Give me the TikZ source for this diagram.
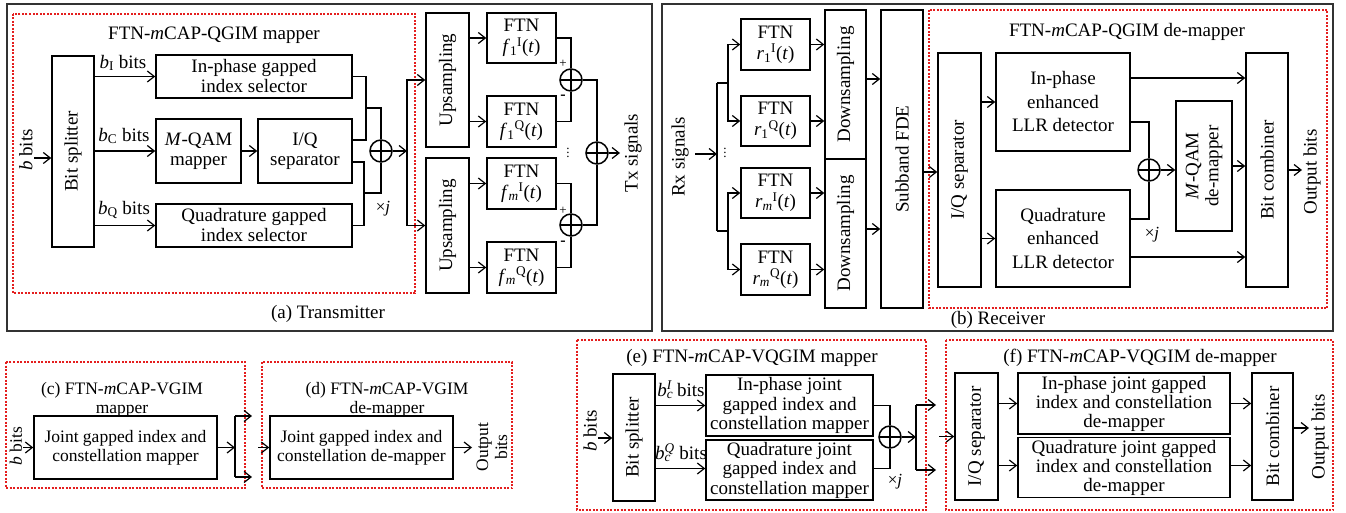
\documentclass[tikz,border=0pt]{standalone}
\usepackage{fontspec}
\setmainfont{Liberation Serif}
\usetikzlibrary{arrows.meta}
\definecolor{rdot}{RGB}{228,30,30}
\definecolor{frame}{RGB}{50,50,50}
\newcommand\fnA{\fontsize{19}{20}\selectfont}
\newcommand\fnC{\fontsize{17.5}{19}\selectfont}
\newcommand\fnL{\fontsize{19}{23.5}\selectfont}
\newcommand\fnS{\fontsize{13}{13}\selectfont}
\newcommand\fnX{\fontsize{17}{17}\selectfont}
\newcommand\supsub[2]{\rlap{\textsubscript{#1}}\textsuperscript{#2}}
\tikzset{
  blk/.style={draw, line width=1.5pt, inner sep=0pt, align=center},
  rot/.style={rotate=90, align=center, inner sep=0pt},
  conn/.style={line width=1.2pt},
  arr/.style={line width=1.2pt, -{Straight Barb[length=7pt,width=11pt]}},
  sumn/.style={circle, draw, line width=1.5pt, minimum size=22pt, inner sep=0pt,
    path picture={\draw[line width=1.3pt] (path picture bounding box.north) -- (path picture bounding box.south)
      (path picture bounding box.west) -- (path picture bounding box.east);}},
  rbox/.style={draw=rdot, line width=1.3pt, dash pattern=on 2pt off 1.5pt},
  obox/.style={draw=frame, line width=2pt},
  lbl/.style={inner sep=0pt, align=center}
}
\begin{document}
\begin{tikzpicture}[x=1pt,y=-1pt,font=\fnA]
\useasboundingbox (0,0) rectangle (1346,513);
\fill[white] (0,0) rectangle (1346,513);

% ---------------- frames ----------------
\draw[obox] (7,4) rectangle (652,331);
\draw[obox] (662,4) rectangle (1333,331);
\draw[rbox] (13,14) rectangle (415,293);
\draw[rbox] (929,10) rectangle (1327,308);
\draw[rbox] (6,362) rectangle (245,488);
\draw[rbox] (262,362) rectangle (512,488);
\draw[rbox] (577,340) rectangle (926,510);
\draw[rbox] (946,340) rectangle (1333,510);

% ---------------- (a) Transmitter ----------------
\node[lbl] (titA) at (214,35) {FTN-\textit{m}CAP-QGIM mapper};
\node[lbl] (capA) at (328,314) {(a) Transmitter};
\node[blk, minimum width=42, minimum height=191] (splitA) at (73,151.5) {};
\node[rot] at (splitA) {Bit splitter};
\node[blk, minimum width=196, minimum height=43] (inA) at (254,76.5) {In-phase gapped\\index selector};
\node[blk, minimum width=85, minimum height=64] (qamA) at (198.5,151) {\textit{M}-QAM\\mapper};
\node[blk, minimum width=94, minimum height=64] (iqA) at (305,151) {I/Q\\separator};
\node[blk, minimum width=196, minimum height=43] (quadA) at (254,225.5) {Quadrature gapped\\index selector};
\node[sumn] (sumA) at (381,151) {};
\node[lbl] (bAl) at (26,150) {\rotatebox{90}{\textit{b} bits}};
\coordinate (bAin) at (34,158);
\draw[arr] (bAin) -- (bAin -| splitA.west);
\draw[arr] (splitA.east |- inA) -- (inA.west);
\draw[arr] (splitA.east |- qamA) -- (qamA.west);
\draw[arr] (splitA.east |- quadA) -- (quadA.west);
\draw[arr] (qamA.east) -- (iqA.west);
\node[lbl] at (123,63) {\textit{b}\textsubscript{I} bits};
\node[lbl] at (124,136) {\textit{b}\textsubscript{C} bits};
\node[lbl] at (124,210) {\textit{b}\textsubscript{Q} bits};
\coordinate (tA) at (366,108);
\coordinate (bA) at (364,193);
\draw[conn] (inA.east) -| (tA) |- ([yshift=11pt]iqA.east);
\draw[conn] (tA) -| (sumA.north);
\draw[conn] ([yshift=-11pt]iqA.east) -| (bA) |- (quadA.east);
\draw[conn] (bA) -| (sumA.south);
\node[lbl, font=\fnX] at (383,209) {×\textit{j}};

\node[blk, minimum width=43, minimum height=134] (up1) at (447.5,80) {};
\node[rot] at (up1) {Upsampling};
\node[blk, minimum width=43, minimum height=135] (up2) at (447.5,225.5) {};
\node[rot] at (up2) {Upsampling};
\coordinate (vA) at (407,151);
\draw[arr] (sumA.east) -- (vA);
\draw[arr] (vA) |- (up1.west);
\draw[arr] (vA) |- (up2.west);

\node[blk, minimum width=69, minimum height=50] (f1I) at (521.5,38) {FTN\\[1pt]\textit{f}\textsubscript{1}\textsuperscript{I}(\textit{t})};
\node[blk, minimum width=69, minimum height=51] (f1Q) at (521.5,121.5) {FTN\\[1pt]\textit{f}\textsubscript{1}\textsuperscript{Q}(\textit{t})};
\node[blk, minimum width=69, minimum height=51] (fmI) at (521.5,183.5) {FTN\\[1pt]\textit{f}\textsubscript{\textit{m}}\textsuperscript{I}(\textit{t})};
\node[blk, minimum width=69, minimum height=51] (fmQ) at (521.5,267.5) {FTN\\[1pt]\textit{f}\textsubscript{\textit{m}}\textsuperscript{Q}(\textit{t})};
\draw[arr] (up1.east |- f1I) -- (f1I.west);
\draw[arr] (up1.east |- f1Q) -- (f1Q.west);
\draw[arr] (up2.east |- fmI) -- (fmI.west);
\draw[arr] (up2.east |- fmQ) -- (fmQ.west);
\node[sumn] (add1) at (571,80) {};
\node[sumn] (add2) at (571,225) {};
\node[sumn] (add3) at (597,153) {};
\draw[conn] (f1I.east) -| (add1.north);
\draw[conn] (f1Q.east) -| (add1.south);
\draw[conn] (fmI.east) -| (add2.north);
\draw[conn] (fmQ.east) -| (add2.south);
\draw[conn] (add1.east) -| (add3.north);
\draw[conn] (add2.east) -| (add3.south);
\node[lbl, font=\fnS] at (563,64) {+};
\node[lbl, font=\fnS] at (563,211) {+};
\node[lbl, font=\fontsize{16}{16}\selectfont\bfseries] at (563,97) {-};
\node[lbl, font=\fontsize{16}{16}\selectfont\bfseries] at (563,243) {-};
\node[lbl, font=\fnS] at (568,150) {$\vdots$};
\coordinate (txo) at (620,153);
\draw[arr] (add3.east) -- (txo);
\node[rot] (txl) at (633,153) {Tx signals};

% ---------------- (b) Receiver ----------------
\node[lbl] (capB) at (998,320) {(b) Receiver};
\node[rot] (rxl) at (680,157) {Rx signals};
\coordinate (rA) at (695,154);
\coordinate (rB) at (717,154);
\coordinate (rT) at (717,83);
\coordinate (rD) at (717,231);
\coordinate (r1) at (728,83);
\coordinate (r2) at (728,231);
\draw[arr] (rA) -- (rB);
\draw[conn] (rT) -- (rD);
\draw[conn] (rT) -- (r1);
\draw[conn] (rD) -- (r2);
\node[lbl, font=\fnS] at (725,150) {$\vdots$};
\node[blk, minimum width=69, minimum height=51] (r1I) at (775.5,44.5) {FTN\\[1pt]\textit{r}\textsubscript{1}\textsuperscript{I}(\textit{t})};
\node[blk, minimum width=69, minimum height=50] (r1Q) at (775.5,121) {FTN\\[1pt]\textit{r}\textsubscript{1}\textsuperscript{Q}(\textit{t})};
\node[blk, minimum width=69, minimum height=50] (rmI) at (775.5,193) {FTN\\[1pt]\textit{r}\textsubscript{\textit{m}}\textsuperscript{I}(\textit{t})};
\node[blk, minimum width=69, minimum height=51] (rmQ) at (775.5,269.5) {FTN\\[1pt]\textit{r}\textsubscript{\textit{m}}\textsuperscript{Q}(\textit{t})};
\draw[arr] (r1) |- (r1I.west);
\draw[arr] (r1) |- (r1Q.west);
\draw[arr] (r2) |- (rmI.west);
\draw[arr] (r2) |- (rmQ.west);
\node[blk, minimum width=41, minimum height=149] (down1) at (845.5,84.5) {};
\node[rot] at (down1) {Downsampling};
\node[blk, minimum width=41, minimum height=149] (down2) at (845.5,233.5) {};
\node[rot] at (down2) {Downsampling};
\draw[arr] (r1I.east) -- (r1I.east -| down1.west);
\draw[arr] (r1Q.east) -- (r1Q.east -| down1.west);
\draw[arr] (rmI.east) -- (rmI.east -| down2.west);
\draw[arr] (rmQ.east) -- (rmQ.east -| down2.west);
\node[blk, minimum width=42, minimum height=298] (fde) at (902,159) {};
\node[rot] at (fde) {Subband FDE};
\draw[arr] ([yshift=5.5pt]down1.east) -- ([yshift=5.5pt]down1.east -| fde.west);
\draw[arr] ([yshift=4.5pt]down2.east) -- ([yshift=4.5pt]down2.east -| fde.west);

\node[lbl] (titB) at (1127,32) {FTN-\textit{m}CAP-QGIM de-mapper};
\node[blk, minimum width=43, minimum height=234] (iqB) at (959.5,170) {};
\node[rot] at (iqB) {I/Q separator};
\draw[arr] ([yshift=-2pt]fde.east |- iqB) -- ([yshift=-2pt]iqB.west);
\node[blk, minimum width=134, minimum height=98, font=\fnL] (llrI) at (1063,102) {In-phase\\enhanced\\LLR detector};
\node[blk, minimum width=134, minimum height=97, font=\fnL] (llrQ) at (1063,238.5) {Quadrature\\enhanced\\LLR detector};
\draw[arr] (iqB.east |- llrI) -- (llrI.west);
\draw[arr] (iqB.east |- llrQ) -- (llrQ.west);
\node[sumn] (sumB) at (1149,170) {};
\node[blk, minimum width=56, minimum height=130] (mqam) at (1204,166) {};
\node[rot] at (mqam) {\textit{M}-QAM\\de-mapper};
\node[blk, minimum width=42, minimum height=234] (bitc) at (1267,170) {};
\node[rot] at (bitc) {Bit combiner};
\draw[arr] ([yshift=24pt]llrI.east) -- ([yshift=24pt]llrI.east -| bitc.west);
\draw[conn] ([yshift=-20pt]llrI.east) -| (sumB.north);
\draw[conn] ([yshift=19.5pt]llrQ.east) -| (sumB.south);
\draw[arr] ([yshift=-18.5pt]llrQ.east) -- ([yshift=-18.5pt]llrQ.east -| bitc.west);
\node[lbl, font=\fnX] at (1152,235) {×\textit{j}};
\draw[arr] (sumB.east) -- (sumB.east -| mqam.west);
\draw[arr] (mqam.east) -- (mqam.east -| bitc.west);
\coordinate (bo) at (1302,170);
\draw[arr] (bitc.east) -- (bo);
\node[rot] (outB) at (1312,172) {Output bits};

% ---------------- (c) ----------------
\node[lbl, font=\fnC] (titC) at (122,399.5) {(c) FTN-\textit{m}CAP-VGIM\\mapper};
\node[blk, minimum width=183, minimum height=63, font=\fnC] (jc) at (125.5,447.5) {Joint gapped index and\\constellation mapper};
\node[lbl, font=\fnC] (bCl) at (16,446) {\rotatebox{90}{\textit{b} bits}};
\coordinate (cin) at (23,447.5);
\draw[arr] (cin) -- (jc.west);
\coordinate (cv) at (235,447.5);
\coordinate (cvt) at (235,416);
\coordinate (cvb) at (235,477);
\coordinate (cot) at (252,416);
\coordinate (cob) at (252,477);
\draw[arr] (jc.east) -- (cv);
\draw[conn] (cvt) -- (cvb);
\draw[arr] (cvt) -- (cot);
\draw[arr] (cvb) -- (cob);

% ---------------- (d) ----------------
\node[lbl, font=\fnC] (titD) at (387,399.5) {(d) FTN-\textit{m}CAP-VGIM\\de-mapper};
\node[blk, minimum width=183, minimum height=63, font=\fnC] (jd) at (361.5,447.5) {Joint gapped index and\\constellation de-mapper};
\coordinate (din) at (258,447.5);
\draw[arr] (din) -- (jd.west);
\coordinate (dout) at (472,447.5);
\draw[arr] (jd.east) -- (dout);
\node[rot, font=\fnC] (outD) at (492,447) {Output\\bits};

% ---------------- (e) ----------------
\node[lbl] (titE) at (752,358) {(e) FTN-\textit{m}CAP-VQGIM mapper};
\node[lbl] (bEl) at (590,431) {\rotatebox{90}{\textit{b} bits}};
\node[blk, minimum width=42, minimum height=127] (splitE) at (634,437.5) {};
\node[rot] at (splitE) {Bit splitter};
\coordinate (ein) at (598,438);
\draw[arr] (ein) -- (ein -| splitE.west);
\node[blk, minimum width=167, minimum height=61, font=\fontsize{19}{19.5}\selectfont] (ijE) at (789.5,405.5) {In-phase joint\\gapped index and\\constellation mapper};
\node[blk, minimum width=167, minimum height=60, font=\fontsize{19}{19.5}\selectfont] (qjE) at (789.5,470) {Quadrature joint\\gapped index and\\constellation mapper};
\draw[arr] (splitE.east |- ijE) -- (ijE.west);
\draw[arr] ([yshift=1.5pt]splitE.east |- qjE) -- ([yshift=1.5pt]qjE.west);
\node[lbl] at (681,390) {\textit{b}\supsub{\textit{c}}{\textit{I}} bits};
\node[lbl] at (681,453) {\textit{b}\supsub{\textit{c}}{\textit{Q}} bits};
\node[sumn] (sumE) at (890,437) {};
\draw[conn] (ijE.east) -| (sumE.north);
\draw[conn] ([yshift=1.5pt]qjE.east) -| (sumE.south);
\node[lbl, font=\fnX] at (895,482) {×\textit{j}};
\coordinate (ev) at (916,437);
\coordinate (evt) at (916,405);
\coordinate (evb) at (916,470);
\coordinate (eot) at (936,405);
\coordinate (eob) at (936,470);
\draw[arr] (sumE.east) -- (ev);
\draw[conn] (evt) -- (evb);
\draw[arr] (evt) -- (eot);
\draw[arr] (evb) -- (eob);

% ---------------- (f) ----------------
\node[lbl] (titF) at (1140,358) {(f) FTN-\textit{m}CAP-VQGIM de-mapper};
\node[blk, minimum width=43, minimum height=127] (iqF) at (976.5,436.5) {};
\node[rot] at (iqF) {I/Q separator};
\coordinate (fin) at (939,436.5);
\draw[arr] (fin) -- (iqF.west);
\node[blk, minimum width=212, minimum height=61, font=\fontsize{19}{19}\selectfont] (ijF) at (1124,403.5) {In-phase joint gapped\\index and constellation\\de-mapper};
\node[blk, minimum width=212, minimum height=60, font=\fontsize{19}{19}\selectfont] (qjF) at (1124,467.5) {Quadrature joint gapped\\index and constellation\\de-mapper};
\node[blk, minimum width=41, minimum height=127] (bitcF) at (1272.5,436.5) {};
\node[rot] at (bitcF) {Bit combiner};
\draw[arr] (iqF.east |- ijF) -- (ijF.west);
\draw[arr] ([yshift=2pt]iqF.east |- qjF) -- ([yshift=2pt]qjF.west);
\draw[arr] (ijF.east) -- (ijF.east -| bitcF.west);
\draw[arr] ([yshift=2pt]qjF.east) -- ([yshift=2pt]qjF.east -| bitcF.west);
\coordinate (fo) at (1309,428);
\draw[arr] (bitcF.east |- fo) -- (fo);
\node[rot] (outF) at (1320,437) {Output bits};
\end{tikzpicture}
\end{document}
